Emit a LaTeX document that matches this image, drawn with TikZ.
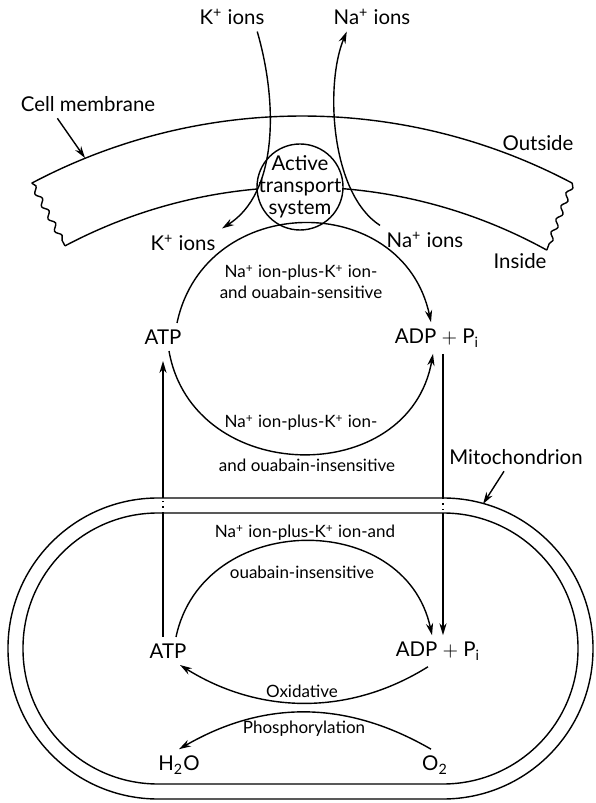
\documentclass[tikz,border=0pt]{standalone}
\usepackage{fontspec}
\setmainfont{Lato}
\usetikzlibrary{arrows.meta,positioning,calc,decorations.pathmorphing}

\newcommand{\ionp}[1]{#1\textsuperscript{+}}
\newcommand{\bigfnt}{\fontsize{10.2}{11}\selectfont}
\newcommand{\smlfnt}{\fontsize{8.5}{10}\selectfont}

\begin{document}
\begin{tikzpicture}[x=0.5pt,y=0.5pt,line width=0.7pt,
  every node/.style={font=\bigfnt,inner sep=3pt},
  sm/.style={font=\smlfnt,inner sep=1pt},
  arr/.style={-{Stealth[length=6pt,width=3.6pt]}},
  torn/.style={decorate,decoration={snake,amplitude=1.2pt,segment length=7pt}}]
\useasboundingbox (0,0) rectangle (595,803);
% cell membrane
\coordinate (mc) at (302,109.5);
\coordinate (memOL) at ($(mc)+(117.9:577.5)$);
\coordinate (memOR) at ($(mc)+(62.1:577.5)$);
\coordinate (memIL) at ($(mc)+(117.9:506.5)$);
\coordinate (memIR) at ($(mc)+(61.1:506.5)$);
\draw (memOL) arc[start angle=117.9,end angle=62.1,radius=577.5];
\draw (memIR) arc[start angle=61.1,end angle=117.9,radius=506.5];
\draw[torn] (memOL) -- (memIL);
\draw[torn] (memOR) -- (memIR);
\node (memLbl) at (88,699) {Cell membrane};
\coordinate (memPt) at (85,645);
\draw[arr] (memLbl.-155) -- (memPt);
\node (outside) at (538,660) {Outside};
\node (inside) at (520,542) {Inside};
% active transport
\node[circle,draw,fill=white,minimum size=43pt] (ats) at (300,616) {};
\node[align=center,inner sep=0pt] (atsTxt) at (ats) {Active\\transport\\system};
\node (kOut) at (232,786) {\ionp{K} ions};
\node (naOut) at (372,786) {\ionp{Na} ions};
\node (kIn) at (183,560) {\ionp{K} ions};
\node (naIn) at (425,563) {\ionp{Na} ions};
\draw[arr] (kOut.-30) .. controls (278,700) and (278,610) .. (kIn.north east);
\draw[arr] (naIn.north west) .. controls (330,610) and (325,720) .. (naOut.-150);
% upper cycle
\node (atpU) at (163,466) {ATP};
\node (adpU) at (437,465) {ADP $+$ P\textsubscript{i}};
\draw[arr] ([xshift=7pt]atpU.north) to[out=78,in=102,looseness=1.36] ([xshift=-3pt]adpU.north);
\draw[arr] ([xshift=3pt]atpU.south) to[out=-80,in=-100,looseness=1.33] ([xshift=-2pt]adpU.south);
\node[sm] (sensA) at (301,530) {\ionp{Na} ion-plus-\ionp{K} ion-};
\node[sm] (sensB) at (301,511) {and ouabain-sensitive};
\node[sm] (insA) at (301,380) {\ionp{Na} ion-plus-\ionp{K} ion-};
\node[sm] (insB) at (307,338) {and ouabain-insensitive};
% mitochondrion
\draw[rounded corners=75pt] (8,4) rectangle (593,305);
\draw[rounded corners=67.5pt] (23,19) rectangle (578,290);
\coordinate (mitoTopO) at (0,305);
\coordinate (mitoTopI) at (0,290);
\node (mitoLbl) at (516,346) {Mitochondrion};
\coordinate (mitoPt) at (483,299);
\draw[arr] ([xshift=-6pt]mitoLbl.south) -- (mitoPt);
\node (atpL) at (168,152) {ATP};
\node (adpL) at (438,152) {ADP $+$ P\textsubscript{i}};
\node (h2o) at (179,38) {H\textsubscript{2}O};
\node (o2) at (435,38) {O\textsubscript{2}};
\node[sm] (mitA) at (305,270) {\ionp{Na} ion-plus-\ionp{K} ion-and};
\node[sm] (mitB) at (302,231) {ouabain-insensitive};
\node[sm] (oxi) at (302,112) {Oxidative};
\node[sm] (phos) at (304,74) {Phosphorylation};
\draw[arr] ([xshift=4pt]atpL.north) to[out=78,in=102,looseness=1.29] ([xshift=-3pt]adpL.north);
\draw[arr] ([xshift=-5pt]adpL.south) to[out=212,in=-32,looseness=0.96] ([xshift=6pt]atpL.south);
\draw[arr] ([xshift=-2pt]o2.north) to[out=150,in=30,looseness=1.0] (h2o.north);
% links through the mitochondrial membranes
\draw (atpL.north -| atpU.south) -- (atpU.south |- mitoTopI);
\draw[dotted] (atpU.south |- mitoTopI) -- (atpU.south |- mitoTopO);
\draw[arr] (atpU.south |- mitoTopO) -- ([yshift=-5pt]atpU.south);
\coordinate (adpUs) at ([xshift=3pt]adpU.south);
\draw (adpUs) -- (adpUs |- mitoTopO);
\draw[dotted] (adpUs |- mitoTopO) -- (adpUs |- mitoTopI);
\draw[arr] (adpUs |- mitoTopI) -- (adpUs |- adpL.north);
\end{tikzpicture}
\end{document}
